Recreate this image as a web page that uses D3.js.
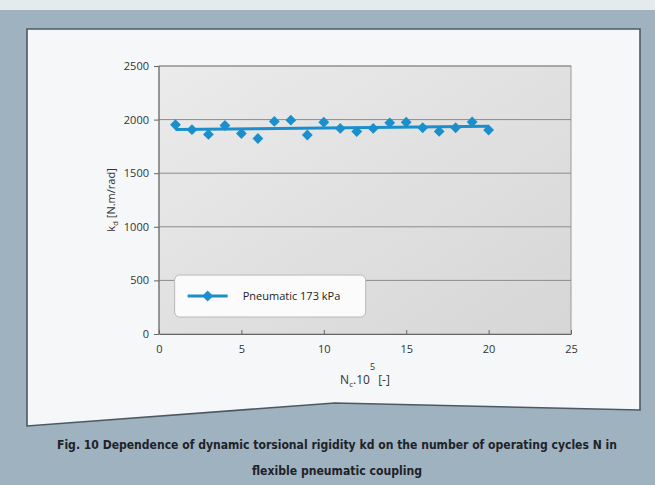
<!DOCTYPE html>
<html>
<head>
<meta charset="utf-8">
<script src="https://cdn.jsdelivr.net/npm/d3@7"></script>
<style>
  body { margin: 0; background: #9fb2c0; }
  svg { display: block; }
  .axis text { font-family: "Open Sans", sans-serif; font-size: 11px; fill: #333; }
  .axis path, .axis line { stroke: #666; }
</style>
</head>
<body>
<div id="chart-area"></div>
<script>

// data
let cycles = [1, 2, 3, 4, 5, 6, 7, 8, 9, 10, 11, 12, 13, 14, 15, 16, 17, 18, 19, 20];
let kd = [1952, 1906, 1862, 1945, 1870, 1824, 1983, 1995, 1856, 1975,
          1918, 1888, 1918, 1970, 1975, 1924, 1890, 1924, 1978, 1903];
let xTicks = [0, 5, 10, 15, 20, 25];
let yTicks = [0, 500, 1000, 1500, 2000, 2500];
let seriesName = "Pneumatic 173 kPa";
let captionLines = [
  "Fig. 10 Dependence of dynamic torsional rigidity kd on the number of operating cycles N in",
  "flexible pneumatic coupling"
];

let W = 655, H = 485;
let margin = {top: 66, right: 84, bottom: 151, left: 159};
let width = W - margin.left - margin.right;
let height = H - margin.top - margin.bottom;

let root = d3.select("#chart-area").append("svg")
    .attr("width", W)
    .attr("height", H);

// page background: light strip on top, blue-grey frame
root.append("rect").attr("width", W).attr("height", H).attr("fill", "#9fb2c0");
root.append("rect").attr("width", W).attr("height", 10).attr("fill", "#e4eaee");

// white panel with the notched bottom edge
let panel = [[27, 29], [640, 29], [640, 410], [335, 403], [27, 426]];
root.append("path")
    .attr("d", d3.line()(panel) + "Z")
    .attr("fill", "#f6f7f8")
    .attr("stroke", "#4d5962")
    .attr("stroke-width", 1.6);

let defs = root.append("defs");
let grad = defs.append("linearGradient").attr("id", "plotbg")
    .attr("x1", "0%").attr("x2", "100%").attr("y1", "0%").attr("y2", "100%");
grad.append("stop").attr("offset", "0%").attr("stop-color", "#ebebeb");
grad.append("stop").attr("offset", "100%").attr("stop-color", "#d6d6d6");

let svg = root.append("g")
    .attr("transform", "translate(" + margin.left + "," + margin.top + ")");

let x = d3.scaleLinear().domain([0, 25]).range([0, width]);
let y = d3.scaleLinear().domain([0, 2500]).range([height, 0]);

svg.append("rect")
    .attr("width", width)
    .attr("height", height)
    .attr("fill", "url(#plotbg)")
    .attr("stroke", "#9a9a9a");

// gridlines
svg.selectAll(".grid")
    .data(yTicks.slice(1))
    .enter().append("line")
    .attr("class", "grid")
    .attr("x1", 0).attr("x2", width)
    .attr("y1", d => y(d)).attr("y2", d => y(d))
    .attr("stroke", "#8c8c8c")
    .attr("stroke-width", 1);

let yAxis = d3.axisLeft(y).tickValues(yTicks).tickFormat(d3.format("d")).tickSize(5).tickPadding(5);
let xAxis = d3.axisBottom(x).tickValues(xTicks).tickFormat(d3.format("d"))
    .tickSizeInner(-4).tickSizeOuter(0).tickPadding(11);

svg.append("g").attr("class", "y-axis axis").call(yAxis)
    .call(g => g.select(".domain").attr("d", "M0," + height + "V0"));
svg.append("g").attr("class", "x-axis axis")
    .attr("transform", "translate(0," + height + ")")
    .call(xAxis);

// linear trend line through the points
let mx = d3.mean(cycles), my = d3.mean(kd);
let slope = d3.sum(cycles, (c, i) => (c - mx) * (kd[i] - my)) / d3.sum(cycles, c => (c - mx) * (c - mx));
let icpt = my - slope * mx;
let x0 = d3.min(cycles), x1 = d3.max(cycles);

let blue = "#1b8fcc";

svg.append("line")
    .attr("x1", x(x0)).attr("y1", y(icpt + slope * x0))
    .attr("x2", x(x1)).attr("y2", y(icpt + slope * x1))
    .attr("stroke", blue)
    .attr("stroke-width", 3);

let diamond = d3.symbol().type(d3.symbolDiamond2).size(75);

svg.selectAll(".pt")
    .data(cycles)
    .enter().append("path")
    .attr("class", "pt")
    .attr("d", diamond)
    .attr("transform", (d, i) => "translate(" + x(d) + "," + y(kd[i]) + ")")
    .attr("fill", blue);

// legend
let legend = svg.append("g").attr("transform", "translate(" + (x(0.95)) + "," + y(550) + ")");
legend.append("rect")
    .attr("width", 191).attr("height", 42).attr("rx", 5)
    .attr("fill", "#fbfbfb").attr("stroke", "#b8b8b8");
legend.append("line")
    .attr("x1", 13).attr("x2", 53).attr("y1", 21).attr("y2", 21)
    .attr("stroke", blue).attr("stroke-width", 3);
legend.append("path").attr("d", diamond)
    .attr("transform", "translate(33,21)").attr("fill", blue);
legend.append("text")
    .attr("x", 68).attr("y", 25)
    .style("font-family", "Open Sans, sans-serif").style("font-size", "11px").attr("fill", "#222")
    .text(seriesName);

// y axis title
let ylab = svg.append("text")
    .attr("transform", "translate(-44," + y(1250) + ") rotate(-90)")
    .attr("text-anchor", "middle")
    .style("font-family", "Open Sans, sans-serif").style("font-size", "11px").attr("fill", "#333");
ylab.append("tspan").text("k");
ylab.append("tspan").attr("dy", 3).style("font-size", "8px").text("d");
ylab.append("tspan").attr("dy", -3).text("     [N.m/rad]");

// x axis title
let xlab = svg.append("text")
    .attr("x", x(12.5)).attr("y", height + 50)
    .attr("text-anchor", "middle")
    .style("font-family", "Open Sans, sans-serif").style("font-size", "12px").attr("fill", "#333");
xlab.append("tspan").text("N");
xlab.append("tspan").attr("dy", 3).style("font-size", "8px").text("c");
xlab.append("tspan").attr("dy", -3).text(".10");
xlab.append("tspan").attr("dy", -14).style("font-size", "9px").text("5");
xlab.append("tspan").attr("dy", 14).text("  [-]");

// caption
root.selectAll(".cap")
    .data(captionLines)
    .enter().append("text")
    .attr("class", "cap")
    .attr("x", 337)
    .attr("y", (d, i) => 449 + i * 26)
    .attr("text-anchor", "middle")
    .attr("textLength", (d, i) => i == 0 ? 560 : 170)
    .attr("lengthAdjust", "spacingAndGlyphs")
    .style("font-family", "DejaVu Sans Condensed, Liberation Sans Narrow, sans-serif")
    .style("font-weight", "bold")
    .style("font-size", "12px")
    .attr("fill", "#1e2328")
    .text(d => d);

</script>
</body>
</html>
